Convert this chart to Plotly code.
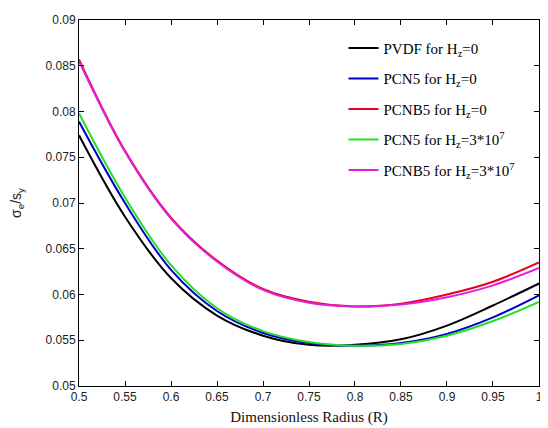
import plotly.graph_objects as go

R = [0.50, 0.55, 0.60, 0.65, 0.70, 0.75, 0.80, 0.85, 0.90, 0.95, 1.00]

pvdf_h0 = [0.0774, 0.0685, 0.0618, 0.0577, 0.0555, 0.0545, 0.0545, 0.0551, 0.0566, 0.0588, 0.0612]
pcn5_h0 = [0.0789, 0.0700, 0.0627, 0.0582, 0.0558, 0.0547, 0.0544, 0.0547, 0.0557, 0.0575, 0.0599]
pcnb5_h0 = [0.0857, 0.0757, 0.0684, 0.0637, 0.0606, 0.0592, 0.0587, 0.0590, 0.0600, 0.0614, 0.0635]
pcn5_h3e7 = [0.0798, 0.0706, 0.0632, 0.0585, 0.0560, 0.0548, 0.0544, 0.0546, 0.0555, 0.0571, 0.0592]
pcnb5_h3e7 = [0.0855, 0.0756, 0.0683, 0.0636, 0.0605, 0.0591, 0.0587, 0.0589, 0.0597, 0.0610, 0.0629]

series = [
    ("PVDF for H<sub>z</sub>=0", pvdf_h0, "#000000"),
    ("PCN5 for H<sub>z</sub>=0", pcn5_h0, "#0000cc"),
    ("PCNB5 for H<sub>z</sub>=0", pcnb5_h0, "#e8001c"),
    ("PCN5 for H<sub>z</sub>=3*10<sup>7</sup>", pcn5_h3e7, "#22e022"),
    ("PCNB5 for H<sub>z</sub>=3*10<sup>7</sup>", pcnb5_h3e7, "#e020e0"),
]

x_ticks = [0.5, 0.55, 0.6, 0.65, 0.7, 0.75, 0.8, 0.85, 0.9, 0.95, 1]
x_tick_labels = ["0.5", "0.55", "0.6", "0.65", "0.7", "0.75", "0.8", "0.85", "0.9", "0.95", "1"]
y_ticks = [0.05, 0.055, 0.06, 0.065, 0.07, 0.075, 0.08, 0.085, 0.09]
y_tick_labels = ["0.05", "0.055", "0.06", "0.065", "0.07", "0.075", "0.08", "0.085", "0.09"]

fig = go.Figure()
for i, (name, vals, color) in enumerate(series):
    fig.add_trace(go.Scatter(
        x=R, y=vals, mode="lines", name=name, legendgroup=f"g{i}",
        line=dict(color=color, width=2, shape="spline", smoothing=1.0),
    ))

axis_common = dict(
    showline=True, linecolor="#000", linewidth=1, mirror="ticks",
    ticks="inside", ticklen=5, tickcolor="#000", showgrid=False, zeroline=False,
    tickfont=dict(family="Liberation Sans, Arial", size=12, color="#222"),
    ticklabeloverflow="allow",
)

fig.update_layout(
    width=540, height=420,
    margin=dict(l=71, r=5, t=10, b=33),
    paper_bgcolor="white", plot_bgcolor="white",
    xaxis=dict(range=[0.5, 1.00001], tickvals=x_ticks, ticktext=x_tick_labels,
               title=dict(text="Dimensionless Radius (R)", standoff=8,
                          font=dict(family="Liberation Serif, Times New Roman", size=15, color="#111")),
               **axis_common),
    yaxis=dict(range=[0.05, 0.09], tickvals=y_ticks, ticktext=y_tick_labels,
               title=dict(text="σ<sub>e</sub>/s<sub>y</sub>", standoff=22,
                          font=dict(family="Liberation Sans, Arial", size=14, color="#222")),
               **axis_common),
    legend=dict(x=0.575, y=0.968, xanchor="left", yanchor="top",
                bgcolor="rgba(255,255,255,0)", borderwidth=0,
                font=dict(family="Liberation Serif, Times New Roman", size=15, color="#000"),
                tracegroupgap=8),
    showlegend=True,
)

fig.write_html("out.html")
